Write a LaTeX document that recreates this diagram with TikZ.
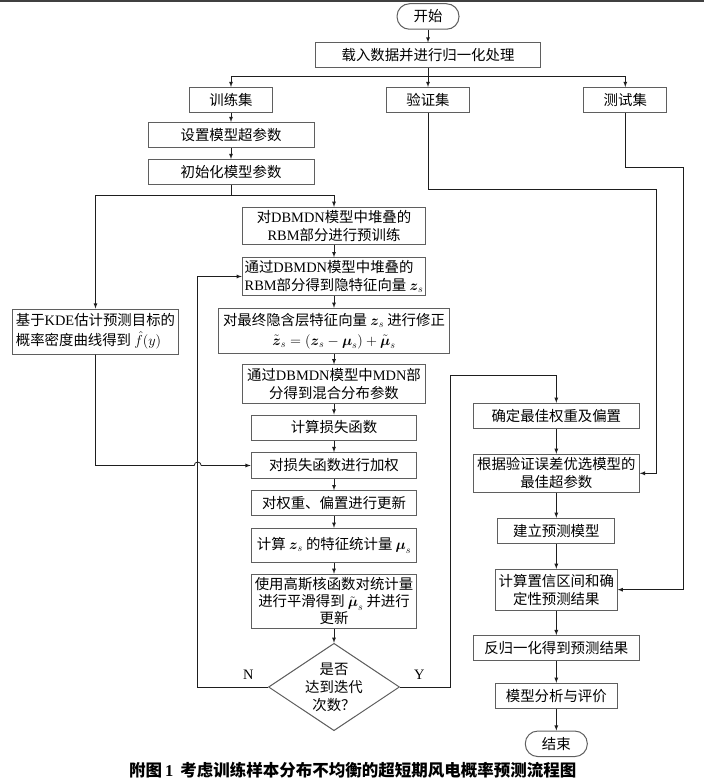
\documentclass[tikz,border=0pt]{standalone}
\usepackage{amsmath,amssymb}
\usepackage{fontspec}
\setmainfont{Noto Sans CJK SC}
\newfontfamily\en{Liberation Serif}
\usepackage{tikz}
\usetikzlibrary{scopes,shapes.geometric}
\definecolor{framegray}{HTML}{5F5F5F}
\definecolor{flowgray}{HTML}{1E1E1E}

\begin{document}
\begin{tikzpicture}[
      x=1pt,y=-1pt,
      font=\fontsize{14.4}{18}\selectfont,
      flow/.style={>=latex,draw=flowgray,line width=0.8pt},
      box/.style={rectangle,draw=framegray,line width=1pt,minimum height=25pt,inner sep=1.5pt,align=center},
      term/.style={box,rounded corners=12.5pt,minimum width=62pt,minimum height=25.5pt},
      judge/.style={diamond,draw=framegray,line width=1pt,aspect=1.5,minimum width=131pt,minimum height=87.4pt,inner sep=-6pt,align=center}
]
      \useasboundingbox (0,0) rectangle (704,781);
      \fill[black!75] (0,0) rectangle (704,2.5);

      % top part
      \node[term] at (428,16.5) (start) {开始};
      \node[box,minimum width=225pt] at (428,55.5) (load) {载入数据并进行归一化处理};
      \node[box,minimum width=83pt] at (231,100) (train) {训练集};
      \node[box,minimum width=83pt] at (428,100) (val) {验证集};
      \node[box,minimum width=83pt] at (625.3,100) (test) {测试集};
      \node[box,minimum width=166pt] at (231,135) (hyper) {设置模型超参数};
      \node[box,minimum width=166pt] at (231,172) (init) {初始化模型参数};
      \coordinate (sp1) at (428,76.7);
      \coordinate (sp2) at (231,195);

      % training loop
      \node[box,minimum width=183.4pt,minimum height=36.7pt] at (334,225.7) (pretrain)
            {对{\en DBMDN}模型中堆叠的\\{\en RBM}部分进行预训练};
      \node[box,minimum width=183.4pt,minimum height=37.6pt,align=left] at (334,276.5) (hidden)
            {通过{\en DBMDN}模型中堆叠的\\{\en RBM}部分得到隐特征向量 $\boldsymbol{z}_s$};
      \node[box,minimum width=231.7pt,minimum height=45pt] at (334,330.8) (correct)
            {对最终隐含层特征向量 $\boldsymbol{z}_s$ 进行修正\\[2pt]$\tilde{\boldsymbol{z}}_s=(\boldsymbol{z}_s-\boldsymbol{\mu}_s)+\tilde{\boldsymbol{\mu}}_s$};
      \node[box,minimum width=165.6pt,minimum height=45pt,align=left] at (95.5,331.5) (kde)
            {基于{\en KDE}估计预测目标的\\[2pt]概率密度曲线得到 $\hat{f}(y)$};
      \node[box,minimum width=183.4pt,minimum height=38.3pt] at (334,384) (mdn)
            {通过{\en DBMDN}模型中{\en MDN}部\\分得到混合分布参数};
      \node[box,minimum width=165.7pt] at (334,427.5) (loss) {计算损失函数};
      \node[box,minimum width=165.7pt,minimum height=25.7pt] at (334,465.5) (weight) {对损失函数进行加权};
      \node[box,minimum width=165.7pt] at (334,503.2) (update) {对权重、偏置进行更新};
      \node[box,minimum width=165.7pt,minimum height=34pt] at (334,545.3) (stats)
            {计算 $\boldsymbol{z}_s$ 的特征统计量 $\boldsymbol{\mu}_s$};
      \node[box,minimum width=165.7pt,minimum height=54pt,inner sep=1pt] at (334,601.3) (smooth)
            {使用高斯核函数对统计量\\[-1pt]进行平滑得到 $\tilde{\boldsymbol{\mu}}_s$ 并进行\\[-1pt]更新};
      \node[judge] at (334,687) (iter) {是否\\达到迭代\\次数？};
      \node at (248.3,675) (lblN) {\en N};
      \node at (419.3,675) (lblY) {\en Y};
      \coordinate (lpN) at (197.7,687);
      \coordinate (lpY) at (450,687);
      \coordinate (ytop) at (450,375);
      \coordinate (hop) at (197.7,465.5);

      % prediction part
      \node[box,minimum width=166pt] at (556.3,415.8) (best) {确定最佳权重及偏置};
      \node[box,minimum width=166pt,minimum height=38pt] at (556.3,473.3) (select)
            {根据验证误差优选模型的\\最佳超参数};
      \node[box,minimum width=116.7pt] at (556.3,530.8) (build) {建立预测模型};
      \node[box,minimum width=121.7pt,minimum height=40.7pt] at (556.3,589.7) (ci)
            {计算置信区间和确\\定性预测结果};
      \node[box,minimum width=166pt,minimum height=25.3pt] at (556.3,648.3) (denorm) {反归一化得到预测结果};
      \node[box,minimum width=121.7pt] at (556.3,695.8) (eval) {模型分析与评价};
      \node[term] at (556.3,743.8) (stop) {结束};
      \coordinate (vturn) at (656,189.3);
      \coordinate (tturn) at (683.3,167.7);

      \node[font=\fontsize{16.5}{19}\selectfont\bfseries] at (352.7,770) (cap)
            {附图\hspace{3pt}{\en\bfseries 1}\hspace{7pt}考虑训练样本分布不均衡的超短期风电概率预测流程图};

      {[flow,->]
          \draw (start) -- (load);
          \draw (load) -- (val);
          \draw (sp1) -| (train);
          \draw (sp1) -| (test);
          \draw (train) -- (hyper);
          \draw (hyper) -- (init);
          \draw (sp2) -| (kde);
          \draw (sp2) -| (pretrain);
          \draw (pretrain) -- (hidden);
          \draw (hidden) -- (correct);
          \draw (correct) -- (mdn);
          \draw (mdn) -- (loss);
          \draw (loss) -- (weight);
          \draw (weight) -- (update);
          \draw (update) -- (stats);
          \draw (stats) -- (smooth);
          \draw (smooth) -- (iter);
          \draw (iter.west) -- (lpN) |- (hidden.west);
          \draw (iter.east) -- (lpY) -- (ytop) -| (best);
          \draw (kde) |- ([xshift=-3.5pt]hop) arc[start angle=180,end angle=0,radius=3.5pt] -- (weight);
          \draw (best) -- (select);
          \draw (val) |- (vturn) |- (select);
          \draw (select) -- (build);
          \draw (build) -- (ci);
          \draw (test) |- (tturn) |- (ci);
          \draw (ci) -- (denorm);
          \draw (denorm) -- (eval);
          \draw (eval) -- (stop);
      }
      {[flow]
          \draw (init) -- (sp2);
      }
\end{tikzpicture}
\end{document}
